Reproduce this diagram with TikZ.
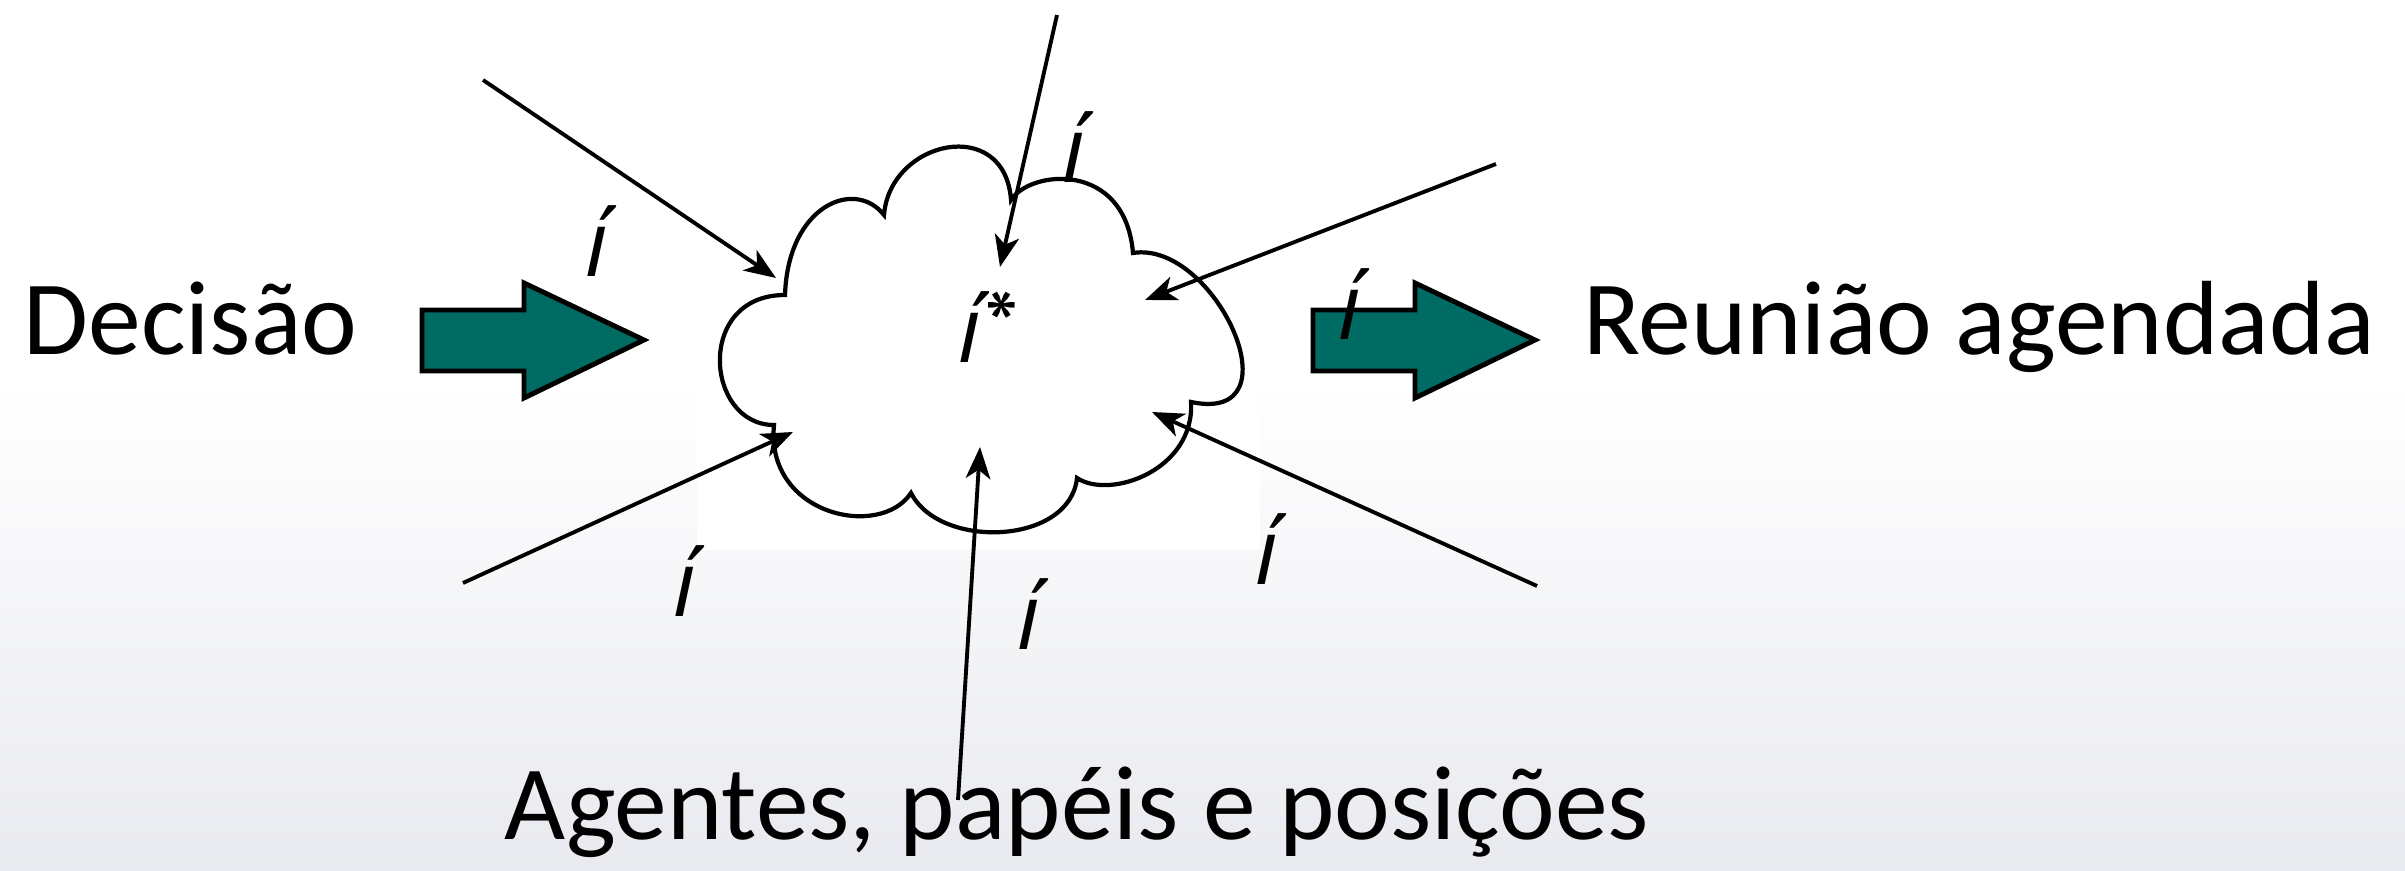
\documentclass[tikz,border=0pt]{standalone}
\usepackage{fontspec}
\setmainfont{Carlito}
\newfontfamily\letrai{PT Sans}
\usetikzlibrary{arrows.meta}

\definecolor{verdeseta}{RGB}{0,107,98}
\definecolor{fundo}{RGB}{233,234,239}

\tikzset{
        fluxo/.style={line width=1.1pt,-{Stealth[length=9pt,width=7pt,inset=2.5pt]}},
        setagrossa/.style={draw=black,line width=1.4pt,fill=verdeseta,line join=miter},
        nuvem/.style={draw=black,line width=1.2pt,fill=white},
        rotulo/.style={font=\letrai\fontsize{28}{30}\selectfont\itshape,inner sep=0pt,anchor=base},
        titulo/.style={font=\fontsize{30}{34}\selectfont,inner sep=0pt},
}

\begin{document}
\begin{tikzpicture}[x=0.01cm,y=-0.01cm]
        \useasboundingbox (0,0) rectangle (2405,871);
        \fill[white] (0,0) rectangle (2405,871);
        \shade[top color=white,bottom color=fundo] (0,380) rectangle (2405,871);
        \fill[white] (697,130) rectangle (1260,550);

        \foreach \x in {422,1313}
                \draw[setagrossa] (\x,310) -- ++(102,0) -- ++(0,-27) -- ++(120,57) -- ++(-120,58) -- ++(0,-27) -- ++(-102,0) -- cycle;

        \draw[nuvem] (785,295)
                .. controls (788,205) and (855,178) .. (884,215)
                .. controls (890,140) and (1005,115) .. (1011,200)
                .. controls (1030,170) and (1125,160) .. (1133,253)
                .. controls (1215,240) and (1300,425) .. (1191,402)
                .. controls (1195,470) and (1110,500) .. (1077,478)
                .. controls (1070,545) and (940,550) .. (911,493)
                .. controls (880,540) and (765,515) .. (774,425)
                .. controls (705,425) and (695,295) .. cycle;

        \coordinate (de1) at (483,80);    \coordinate (para1) at (776,278);
        \coordinate (de2) at (1057,15);   \coordinate (para2) at (1000,267);
        \coordinate (de3) at (1496,164);  \coordinate (para3) at (1145,300);
        \coordinate (de4) at (463,583);   \coordinate (para4) at (793,432);
        \coordinate (de5) at (958,800);   \coordinate (para5) at (980,447);
        \coordinate (de6) at (1537,586);  \coordinate (para6) at (1152,412);
        \foreach \n in {1,...,6}
                \draw[fluxo] (de\n) -- (para\n);

        \node[titulo,anchor=base west] (decisao) at (23,355) {Decisão};
        \node[titulo,anchor=base east] (reuniao) at (2376,355) {Reunião agendada};
        \node[titulo,anchor=base] (agentes) at (1077,840) {Agentes, papéis e posições};

        \node[rotulo] (i1) at (595,277) {í};
        \node[rotulo] (i2) at (1072,183) {í};
        \node[rotulo] (i3) at (1348,340) {í};
        \node[rotulo] (i4) at (683,617) {í};
        \node[rotulo] (i5) at (1027,650) {í};
        \node[rotulo] (i6) at (1265,585) {í};
        \node[rotulo,anchor=base west] (istar) at (955,363) {í*};
\end{tikzpicture}
\end{document}
